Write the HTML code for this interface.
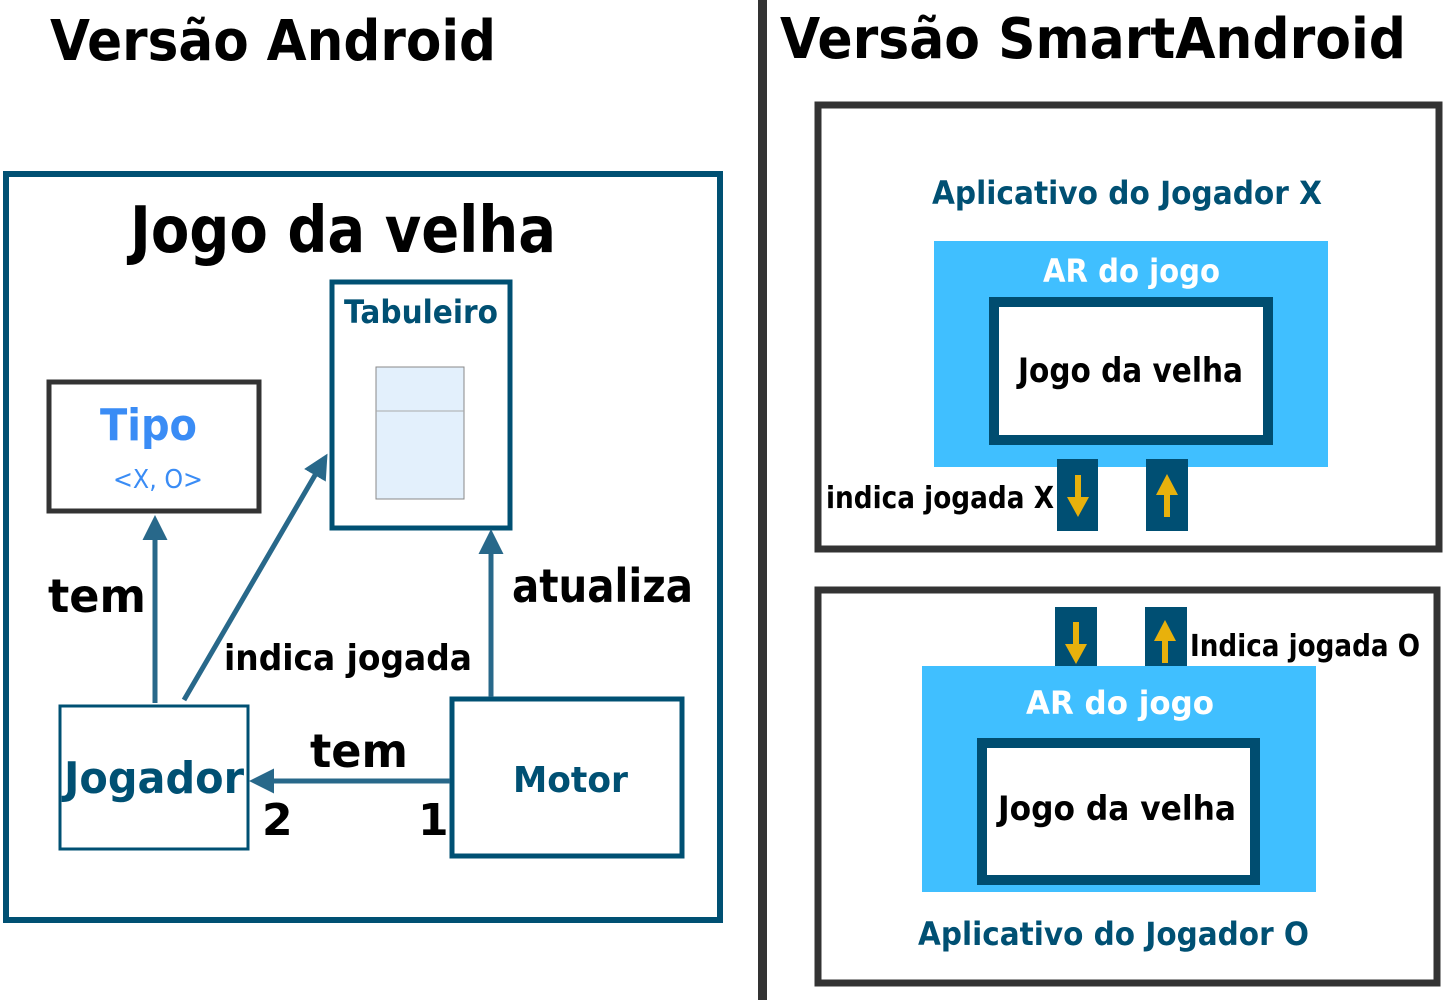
<!DOCTYPE html>
<html><head><meta charset="utf-8"><style>html,body{margin:0;padding:0;background:#fff}svg{display:block}text{font-family:"DejaVu Sans","Liberation Sans",sans-serif;font-weight:bold}</style></head>
<body>
<svg width="1446" height="1000" viewBox="0 0 1446 1000" xmlns="http://www.w3.org/2000/svg">
<defs>
<marker id="ah" viewBox="0 0 10 10" refX="8" refY="5" markerWidth="5" markerHeight="5" orient="auto"><path d="M0,0 L10,5 L0,10 z" fill="#28688a"/></marker>
</defs>
<rect x="758" y="0" width="9" height="1000" fill="#333"/>
<text x="50" y="60" font-size="56" textLength="446" lengthAdjust="spacingAndGlyphs">Versão Android</text>
<text x="780" y="58" font-size="56" textLength="626" lengthAdjust="spacingAndGlyphs">Versão SmartAndroid</text>

<rect x="6" y="174" width="714" height="746" fill="none" stroke="#005073" stroke-width="6"/>
<text x="130" y="252" font-size="64" textLength="426" lengthAdjust="spacingAndGlyphs">Jogo da velha</text>

<rect x="332" y="282" width="178" height="246" fill="#fff" stroke="#005073" stroke-width="5"/>
<text x="344" y="323" font-size="32" fill="#005073" textLength="154" lengthAdjust="spacingAndGlyphs">Tabuleiro</text>
<rect x="376" y="367" width="88" height="132" fill="#e3f0fc" stroke="#888" stroke-width="1"/>
<line x1="376" y1="411" x2="464" y2="411" stroke="#aaa" stroke-width="1"/>

<rect x="49" y="382" width="210" height="129" fill="#fff" stroke="#333" stroke-width="5"/>
<text x="100" y="440" font-size="44" fill="#3a8cf5" textLength="97" lengthAdjust="spacingAndGlyphs">Tipo</text>
<text x="113" y="488" font-size="26" fill="#3a8cf5" style="font-weight:normal" textLength="90" lengthAdjust="spacingAndGlyphs">&lt;X, O&gt;</text>

<rect x="60" y="706" width="188" height="143" fill="#fff" stroke="#005073" stroke-width="3"/>
<text x="64" y="793" font-size="44" fill="#005073" textLength="180" lengthAdjust="spacingAndGlyphs">Jogador</text>

<rect x="452" y="699" width="230" height="157" fill="#fff" stroke="#005073" stroke-width="5"/>
<text x="513" y="792" font-size="36" fill="#005073" textLength="115" lengthAdjust="spacingAndGlyphs">Motor</text>

<line x1="155" y1="703" x2="155" y2="520" stroke="#28688a" stroke-width="5" marker-end="url(#ah)"/>
<line x1="184" y1="700" x2="325" y2="458" stroke="#28688a" stroke-width="5" marker-end="url(#ah)"/>
<line x1="491" y1="697" x2="491" y2="534" stroke="#28688a" stroke-width="5" marker-end="url(#ah)"/>
<line x1="450" y1="781" x2="254" y2="781" stroke="#28688a" stroke-width="5" marker-end="url(#ah)"/>

<text x="48" y="612" font-size="46" textLength="98" lengthAdjust="spacingAndGlyphs">tem</text>
<text x="224" y="670" font-size="36" textLength="248" lengthAdjust="spacingAndGlyphs">indica jogada</text>
<text x="512" y="602" font-size="46" textLength="181" lengthAdjust="spacingAndGlyphs">atualiza</text>
<text x="310" y="767" font-size="46" textLength="98" lengthAdjust="spacingAndGlyphs">tem</text>
<text x="262" y="835" font-size="44">2</text>
<text x="418" y="835" font-size="44">1</text>

<rect x="818" y="105" width="621" height="444" fill="none" stroke="#333" stroke-width="7"/>
<text x="932" y="204" font-size="32" fill="#005073" textLength="390" lengthAdjust="spacingAndGlyphs">Aplicativo do Jogador X</text>
<rect x="934" y="241" width="394" height="226" fill="#40bfff"/>
<text x="1043" y="282" font-size="32" fill="#fff" textLength="177" lengthAdjust="spacingAndGlyphs">AR do jogo</text>
<rect x="994" y="302" width="274" height="138" fill="#fff" stroke="#004d70" stroke-width="10"/>
<text x="1018" y="382" font-size="34" textLength="225" lengthAdjust="spacingAndGlyphs">Jogo da velha</text>
<text x="826" y="508" font-size="30" textLength="228" lengthAdjust="spacingAndGlyphs">indica jogada X</text>
<rect x="1057" y="459" width="41" height="72" fill="#004f73"/>
<rect x="1146" y="459" width="42" height="72" fill="#004f73"/>
<path d="M1075,475 h6 v22 h8 l-11,20 l-11,-20 h8 z" fill="#e8b10c"/>
<path d="M1164,517 h6 v-22 h8 l-11,-21 l-11,21 h8 z" fill="#e8b10c"/>

<rect x="818" y="590" width="619" height="393" fill="none" stroke="#333" stroke-width="7"/>
<rect x="1055" y="607" width="42" height="71" fill="#004f73"/>
<rect x="1145" y="607" width="42" height="71" fill="#004f73"/>
<path d="M1073,622 h6 v22 h8 l-11,20 l-11,-20 h8 z" fill="#e8b10c"/>
<path d="M1162,663 h6 v-22 h8 l-11,-21 l-11,21 h8 z" fill="#e8b10c"/>
<text x="1190" y="656" font-size="30" textLength="230" lengthAdjust="spacingAndGlyphs">Indica jogada O</text>
<rect x="922" y="666" width="394" height="226" fill="#40bfff"/>
<text x="1026" y="714" font-size="32" fill="#fff" textLength="188" lengthAdjust="spacingAndGlyphs">AR do jogo</text>
<rect x="982" y="743" width="273" height="137" fill="#fff" stroke="#004d70" stroke-width="10"/>
<text x="998" y="820" font-size="34" textLength="238" lengthAdjust="spacingAndGlyphs">Jogo da velha</text>
<text x="918" y="945" font-size="32" fill="#005073" textLength="391" lengthAdjust="spacingAndGlyphs">Aplicativo do Jogador O</text>
</svg>
</body></html>
